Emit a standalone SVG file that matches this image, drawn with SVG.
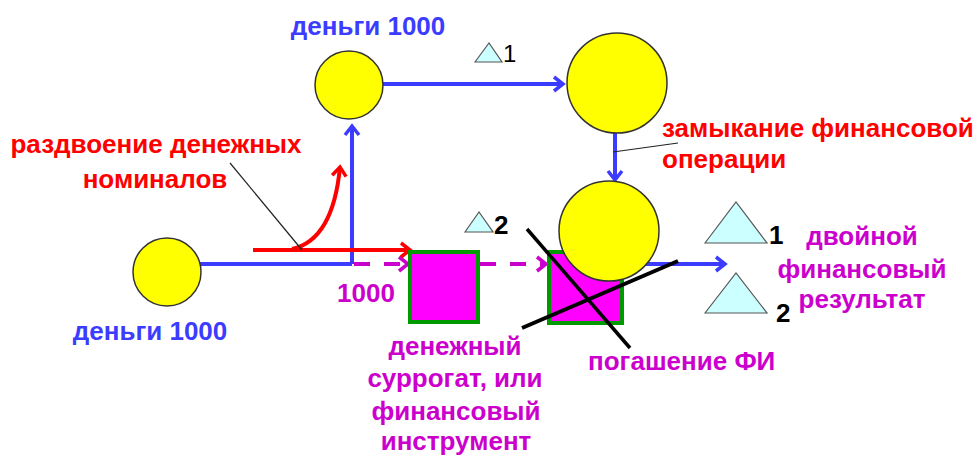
<svg xmlns="http://www.w3.org/2000/svg" width="977" height="457" viewBox="0 0 977 457">
<defs>
<style>
.t{font-family:"Liberation Sans",Arial,sans-serif;font-weight:bold;font-size:26px}
.blue{fill:#3c3cff}
.red{fill:#ff0000}
.mag{fill:#cc00cc}
.blk{fill:#000}
.circ{fill:#ffff00;stroke:#333;stroke-width:1.5}
.sq{fill:#ff00ff;stroke:#009900;stroke-width:4}
.tri{fill:#ccffff;stroke:#555;stroke-width:1.2}
.bl{stroke:#3c3cff;stroke-width:4;fill:none}
.ml{stroke:#cc00cc;stroke-width:4;fill:none;stroke-dasharray:16 14}
.rl{stroke:#ff0000;stroke-width:4;fill:none}
</style>
<marker id="ab" markerWidth="14" markerHeight="18" refX="11" refY="9" orient="auto" markerUnits="userSpaceOnUse"><path d="M2,2 L11,9 L2,16" fill="none" stroke="#3c3cff" stroke-width="3.5"/></marker>
<marker id="am" markerWidth="14" markerHeight="18" refX="11" refY="9" orient="auto" markerUnits="userSpaceOnUse"><path d="M2,2 L11,9 L2,16" fill="none" stroke="#cc00cc" stroke-width="3.5"/></marker>
<marker id="ar" markerWidth="14" markerHeight="18" refX="11" refY="9" orient="auto" markerUnits="userSpaceOnUse"><path d="M2,2 L11,9 L2,16" fill="none" stroke="#ff0000" stroke-width="3.5"/></marker>
</defs>
<rect width="977" height="457" fill="#fff"/>
<g id="connectors">
<path class="bl" d="M200,264 H352"/>
<path class="bl" d="M352,264 V126" marker-end="url(#ab)"/>
<path class="bl" d="M383,84 H563" marker-end="url(#ab)"/>
<path class="bl" d="M615,132 V180" marker-end="url(#ab)"/>
<path class="bl" d="M645,264 H725" marker-end="url(#ab)"/>
<path class="ml" d="M354,264 H408" marker-end="url(#am)" stroke-dasharray="13 13"/>
<path class="ml" d="M480,264 H546" marker-end="url(#am)"/>
<path class="rl" d="M253,250 H410" marker-end="url(#ar)"/>
<path class="rl" d="M292,249 Q333,240 340,167" marker-end="url(#ar)"/>
<line x1="230" y1="163" x2="302" y2="250" stroke="#222" stroke-width="1.2"/>
<line x1="613" y1="152" x2="678" y2="143" stroke="#222" stroke-width="1.2"/>
</g>
<g id="money-left"><circle class="circ" cx="167" cy="272" r="34"/><text class="t blue" x="150" y="340" text-anchor="middle">деньги 1000</text></g>
<g id="money-top"><circle class="circ" cx="349" cy="85" r="34"/><text class="t blue" x="368" y="35" text-anchor="middle">деньги 1000</text></g>
<g id="circle-top-right"><circle class="circ" cx="617" cy="83" r="50"/></g>
<g id="square1"><rect class="sq" x="410" y="252" width="68" height="70"/></g>
<g id="square2"><rect class="sq" x="549" y="252" width="73" height="71"/></g>
<g id="circle-lower"><circle class="circ" cx="609" cy="231" r="50"/></g>
<g id="cross"><line x1="527" y1="229" x2="630" y2="348" stroke="#000" stroke-width="3.5"/><line x1="522" y1="328" x2="678" y2="261" stroke="#000" stroke-width="4"/></g>
<g id="delta1"><polygon class="tri" points="475,62 489,43 502,62"/><text class="t blk" x="503" y="62" style="font-weight:normal;font-size:24px">1</text></g>
<g id="delta2"><polygon class="tri" points="465,232 479,212 493,232"/><text class="t blk" x="494" y="234">2</text></g>
<g id="result-tri"><polygon class="tri" points="705,243 736,202 767,243"/><text class="t blk" x="769" y="244">1</text><polygon class="tri" points="705,313 736,273 767,313"/><text class="t blk" x="776" y="322">2</text></g>
<g id="label-split"><text class="t red" x="156" y="153" text-anchor="middle">раздвоение денежных</text><text class="t red" x="155" y="188" text-anchor="middle">номиналов</text></g>
<g id="label-1000"><text class="t mag" x="366" y="302" text-anchor="middle">1000</text></g>
<g id="label-close"><text class="t red" x="662" y="137">замыкание финансовой</text><text class="t red" x="662" y="168">операции</text></g>
<g id="label-result"><text class="t mag" x="862" y="245" text-anchor="middle">двойной</text><text class="t mag" x="862" y="278" text-anchor="middle">финансовый</text><text class="t mag" x="862" y="308" text-anchor="middle">результат</text></g>
<g id="label-surrogate"><text class="t mag" x="455" y="355" text-anchor="middle">денежный</text><text class="t mag" x="455" y="387" text-anchor="middle">суррогат, или</text><text class="t mag" x="456" y="420" text-anchor="middle">финансовый</text><text class="t mag" x="456" y="450" text-anchor="middle">инструмент</text></g>
<g id="label-repay"><text class="t mag" x="588" y="370">погашение ФИ</text></g>
</svg>
